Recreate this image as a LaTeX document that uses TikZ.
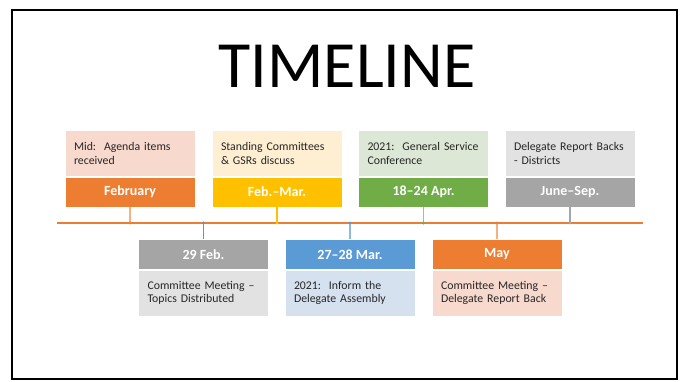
\documentclass[tikz,border=0pt]{standalone}
\usepackage{fontspec}
\setmainfont{Carlito}
\usepackage{tikz}
\usetikzlibrary{positioning}
\definecolor{orangeD}{HTML}{ED7D31}
\definecolor{orangeL}{HTML}{F8D9CE}
\definecolor{orangeT}{HTML}{F4B183}
\definecolor{goldD}{HTML}{FFC000}
\definecolor{goldL}{HTML}{FFEFD2}
\definecolor{grayD}{HTML}{A5A5A5}
\definecolor{grayL}{HTML}{E2E2E2}
\definecolor{grayT}{HTML}{8C8C8C}
\definecolor{blueD}{HTML}{5B9BD5}
\definecolor{blueL}{HTML}{D6E1F0}
\definecolor{blueT}{HTML}{8FB8E2}
\definecolor{greenD}{HTML}{70AD47}
\definecolor{greenL}{HTML}{DCE8D5}
\definecolor{greenT}{HTML}{9CC880}
\tikzset{
    head/.style={draw=white, line width=0.6pt, minimum width=130, minimum height=30,
        inner sep=0, text=white, font=\fontsize{14}{16}\selectfont\bfseries},
    note/.style={draw=white, line width=0.6pt, minimum width=130, minimum height=46,
        inner xsep=9, inner ysep=0, text width=112, align=left, text=black!85,
        font=\fontsize{11.8}{13.2}\selectfont},
    tick/.style={line width=1.2pt},
    dot/.style={radius=1.6},
}

\begin{document}
\begin{tikzpicture}[x=1pt, y=-1pt]
    \useasboundingbox (0,0) rectangle (685,382);
    \draw[line width=2.2pt] (12,10) rectangle (677,379);
    \node[anchor=base, font=\fontsize{66}{70}\selectfont] (title) at (347,88) {TIMELINE};

    % the time axis
    \coordinate (start) at (57,223);
    \coordinate (end) at (643,223);
    \draw[orangeD, line width=1.2pt] (start) -- (end);

    % upper row
    \node[head, fill=orangeD] (feb) at (130,192) {February};
    \node[note, fill=orangeL, above=0 of feb] (febNote) {\mbox{Mid:\ \ Agenda items}\\received};
    \node[head, fill=goldD] (febmar) at (277,192) {Feb.--Mar.};
    \node[note, fill=goldL, above=0 of febmar] (febmarNote) {\mbox{Standing Committees}\\\& GSRs discuss};
    \node[head, fill=greenD] (apr) at (423.5,192) {18--24 Apr.};
    \node[note, fill=greenL, above=0 of apr] (aprNote) {\mbox{2021:\ \ General Service}\\Conference};
    \node[head, fill=grayD] (junsep) at (570,192) {June--Sep.};
    \node[note, fill=grayL, above=0 of junsep] (junsepNote) {\mbox{Delegate Report Backs}\\- Districts};

    % lower row
    \node[head, fill=grayD] (leap) at (203.5,254.5) {29 Feb.};
    \node[note, fill=grayL, below=0 of leap] (leapNote) {\mbox{Committee Meeting --}\\Topics Distributed};
    \node[head, fill=blueD] (mar) at (350,254.5) {27--28 Mar.};
    \node[note, fill=blueL, below=0 of mar] (marNote) {\mbox{2021:\ \ Inform the}\\Delegate Assembly};
    \node[head, fill=orangeD] (may) at (497,254.5) {May};
    \node[note, fill=orangeL, below=0 of may] (mayNote) {\mbox{Committee Meeting --}\\\mbox{Delegate Report Back}};

    % ticks on the axis
    \coordinate (t1) at (130,223);
    \coordinate (t2) at (203.5,223);
    \coordinate (t3) at (277,223);
    \coordinate (t4) at (350,223);
    \coordinate (t5) at (423.5,223);
    \coordinate (t6) at (497,223);
    \coordinate (t7) at (570,223);
    \draw[tick, orangeT] (feb.south) -- (t1);
    \draw[tick, grayT] (leap.north) -- (t2);
    \draw[tick, goldD] (febmar.south) -- (t3);
    \draw[tick, blueT] (mar.north) -- (t4);
    \draw[tick, greenT] (apr.south) -- (t5);
    \draw[tick, orangeT] (may.north) -- (t6);
    \draw[tick, grayD] (junsep.south) -- (t7);
    \fill[orangeD] (t1) circle[dot];
    \fill[grayT] (t2) circle[dot];
    \fill[goldD] (t3) circle[dot];
    \fill[blueD] (t4) circle[dot];
    \fill[greenD] (t5) circle[dot];
    \fill[orangeD] (t6) circle[dot];
    \fill[grayD] (t7) circle[dot];
\end{tikzpicture}
\end{document}
